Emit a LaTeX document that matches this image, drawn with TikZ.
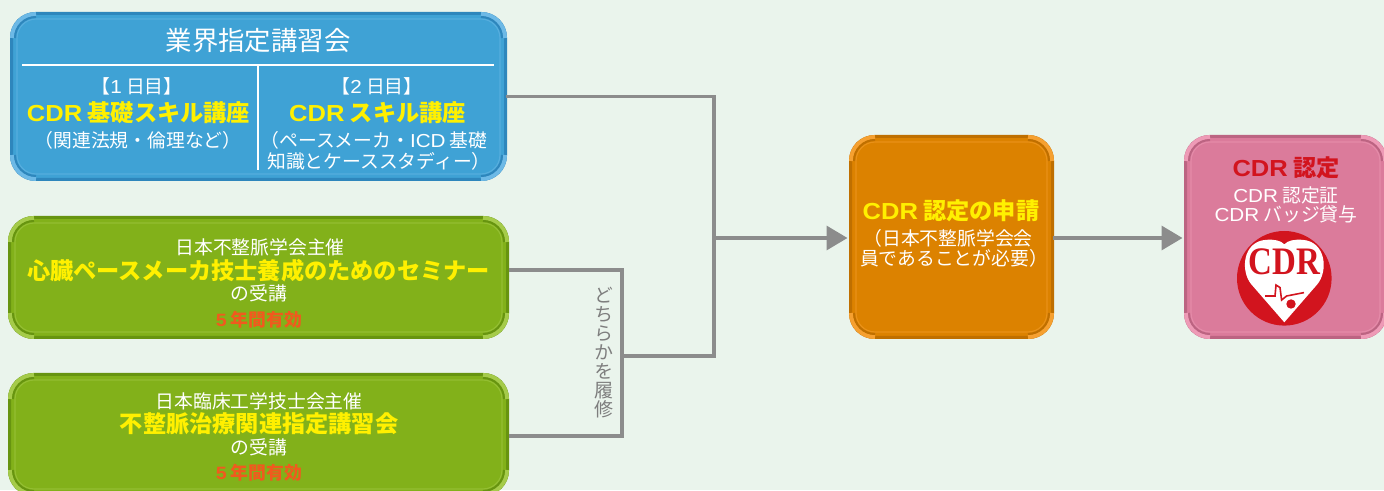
\documentclass[tikz,border=0pt]{standalone}
\usepackage{fontspec}
\setmainfont{Noto Sans CJK JP}
\newfontfamily\latfont[FakeStretch=1.1]{Liberation Sans}
\newfontfamily\logofont{Liberation Serif}
\font\vertfont="Noto Sans CJK JP:vertical;+vrt2" at 19pt
\usepackage{tikz}
\usetikzlibrary{arrows.meta,calc,positioning}
\definecolor{bgcol}{HTML}{EAF4EC}
\definecolor{bluecol}{HTML}{3FA2D5}
\definecolor{bluedark}{HTML}{2E86BC}
\definecolor{bluelight}{HTML}{6DB9E6}
\definecolor{greencol}{HTML}{82B11A}
\definecolor{greendark}{HTML}{679410}
\definecolor{greenlight}{HTML}{A5CB4A}
\definecolor{orangecol}{HTML}{DC8200}
\definecolor{orangedark}{HTML}{BF6F00}
\definecolor{orangelight}{HTML}{F6A030}
\definecolor{pinkcol}{HTML}{DB7B9B}
\definecolor{pinkdark}{HTML}{BC6482}
\definecolor{pinklight}{HTML}{EE9AB6}
\definecolor{linecol}{HTML}{8C8C8C}
\definecolor{yellowcol}{HTML}{FFF000}
\definecolor{redcol}{HTML}{D2141E}
\definecolor{termcol}{HTML}{F05A1E}
\tikzset{
  panel/.style={rectangle,rounded corners=24,outer sep=0,line width=3},
  txtplain/.style={inner sep=0,text=white,font=\fontsize{18.8}{22}\selectfont},
  txtbold/.style={inner sep=0,text=yellowcol,font=\fontsize{23.2}{26}\selectfont\bfseries},
  txtterm/.style={inner sep=0,text=termcol,font=\fontsize{17.8}{20}\selectfont\bfseries},
  conn/.style={linecol,line width=3.3},
  connarrow/.style={conn,-{Triangle[length=21,width=24]},shorten >=3},
}
\begin{document}
\begin{tikzpicture}[x=1pt,y=1pt]
\useasboundingbox[fill=bgcol] (0,0) rectangle (1384,490);
%Kaesten
\node[panel,draw=bluedark,fill=bluecol,minimum width=494,minimum height=166] (kurs) at (258.5,393.5) {};
\node[panel,draw=greendark,fill=greencol,minimum width=498,minimum height=120] (seminar) at (258.5,212.5) {};
\node[panel,draw=greendark,fill=greencol,minimum width=498,minimum height=120] (lehrgang) at (258.5,55.5) {};
\node[panel,draw=orangedark,fill=orangecol,minimum width=202,minimum height=201] (antrag) at (951.5,253) {};
\node[panel,draw=pinkdark,fill=pinkcol,minimum width=200,minimum height=201] (zert) at (1285.5,253) {};
%Ecken und Lichtkante
\foreach \boxname/\lightcol/\darkcol in {kurs/bluelight/bluedark,seminar/greenlight/greendark,lehrgang/greenlight/greendark,antrag/orangelight/orangedark,zert/pinklight/pinkdark}{
\draw[\lightcol,opacity=.5,line width=1.2,rounded corners=19] ($(\boxname.north west)+(5.5,-5.5)$) rectangle ($(\boxname.south east)+(-5.5,5.5)$);
\foreach \cornername/\ang/\ox/\oy/\rx/\ry in {north west/180/1/0/0/-1,north east/90/0/-1/-1/0,south east/0/-1/0/0/1,south west/270/0/1/1/0}{
\draw[\lightcol,line width=4] ($(\boxname.\cornername)+(\ox*0.5+\rx*24.5,\oy*0.5+\ry*24.5)$) arc[start angle=\ang,delta angle=-90,radius=24];
\draw[\darkcol,line width=2] ($(\boxname.\cornername)+(\ox*3.5+\rx*24.5,\oy*3.5+\ry*24.5)$) arc[start angle=\ang,delta angle=-90,radius=21];
}
}
%Verbindungen
\coordinate (busa) at (714,252);
\coordinate (busb) at (622,134);
\coordinate (seminarout) at (509,220);
\coordinate (lehrgangout) at (509,54);
\draw[conn] (kurs.east) -| (busa |- busb) -- (busb);
\draw[conn] (seminarout) -| (busb |- lehrgangout) -- (lehrgangout);
\draw[connarrow] (busa) -- (busa -| antrag.west);
\draw[connarrow] (antrag.east |- busa) -- (busa -| zert.west);
%Blau
\draw[white,line width=2.5] (22,425) -- (494,425);
\draw[white,line width=2.5] (258,425) -- (258,320);
\node[inner sep=0,text=white,font=\fontsize{26.4}{30}\selectfont] (kurstitel) at (258,449) {業界指定講習会};
\node[txtplain] (tagA) at (137,404) {【{\latfont 1} 日目】};
\node[txtplain] (tagB) at (377,404) {【{\latfont 2} 日目】};
\node[txtbold] (kursA) at (138.5,377) {{\latfont CDR} 基礎スキル講座};
\node[txtbold] (kursB) at (377.5,377) {{\latfont CDR} スキル講座};
\node[txtplain] (inhaltA) at (138,350) {（関連法規・倫理など）};
\node[txtplain] (inhaltB) at (374,350) {（ペースメーカ・{\latfont ICD} 基礎};
\node[txtplain] (inhaltC) at (379,329) {知識とケーススタディー）};
%Gruen oben
\node[txtplain] (seminarA) at (260,243) {日本不整脈学会主催};
\node[txtbold] (seminarB) at (258.5,219) {心臓ペースメーカ技士養成のためのセミナー};
\node[txtplain] (seminarC) at (259,197) {の受講};
\node[txtterm] (seminarD) at (259,170) {{\latfont 5} 年間有効};
%Gruen unten
\node[txtplain] (lehrgangA) at (259,89) {日本臨床工学技士会主催};
\node[txtbold] (lehrgangB) at (259,66) {不整脈治療関連指定講習会};
\node[txtplain] (lehrgangC) at (259,43) {の受講};
\node[txtterm] (lehrgangD) at (259,17) {{\latfont 5} 年間有効};
\node[inner sep=0,rotate=-90,text=linecol!90!black,font=\vertfont] (wahl) at (611,138) {どちらかを履修};
%Orange
\node[txtbold] (antragA) at (951,279) {{\latfont CDR} 認定の申請};
\node[txtplain] (antragB) at (948,252) {（日本不整脈学会会};
\node[txtplain] (antragC) at (954,232) {員であることが必要）};
%Rosa
\node[txtbold,text=redcol] (zertA) at (1286,322) {{\latfont CDR} 認定};
\node[txtplain] (zertB) at (1286,295) {{\latfont CDR} 認定証};
\node[txtplain] (zertC) at (1286,276) {{\latfont CDR} バッジ貸与};
%Logo
\begin{scope}[shift={(1284.3,211.7)}]
\fill[redcol] (0,0) circle (47.3);
\fill[white] (0,-44) -- (-33,-6) .. controls (-44,7) and (-42,37) .. (-18,38.5) .. controls (-10,39) and (-4,38) .. (0,34) .. controls (4,38) and (10,39) .. (18,38.5) .. controls (42,37) and (44,7) .. (33,-6) -- cycle;
\draw[redcol,line width=1.6] (-19.3,-17.7) -- (-9.3,-17.7) -- (-8.3,-6.7) -- (-4.3,-9.3) -- (-2.7,-21.7) -- (2.3,-17.7) -- (19.7,-14.3);
\fill[redcol] (6.7,-25.7) circle (4.7);
\node[inner sep=0,yscale=1.18,text=redcol,font=\logofont\fontsize{33}{36}\selectfont\bfseries] (logotext) at (0,16) {CDR};
\end{scope}
\end{tikzpicture}
\end{document}
